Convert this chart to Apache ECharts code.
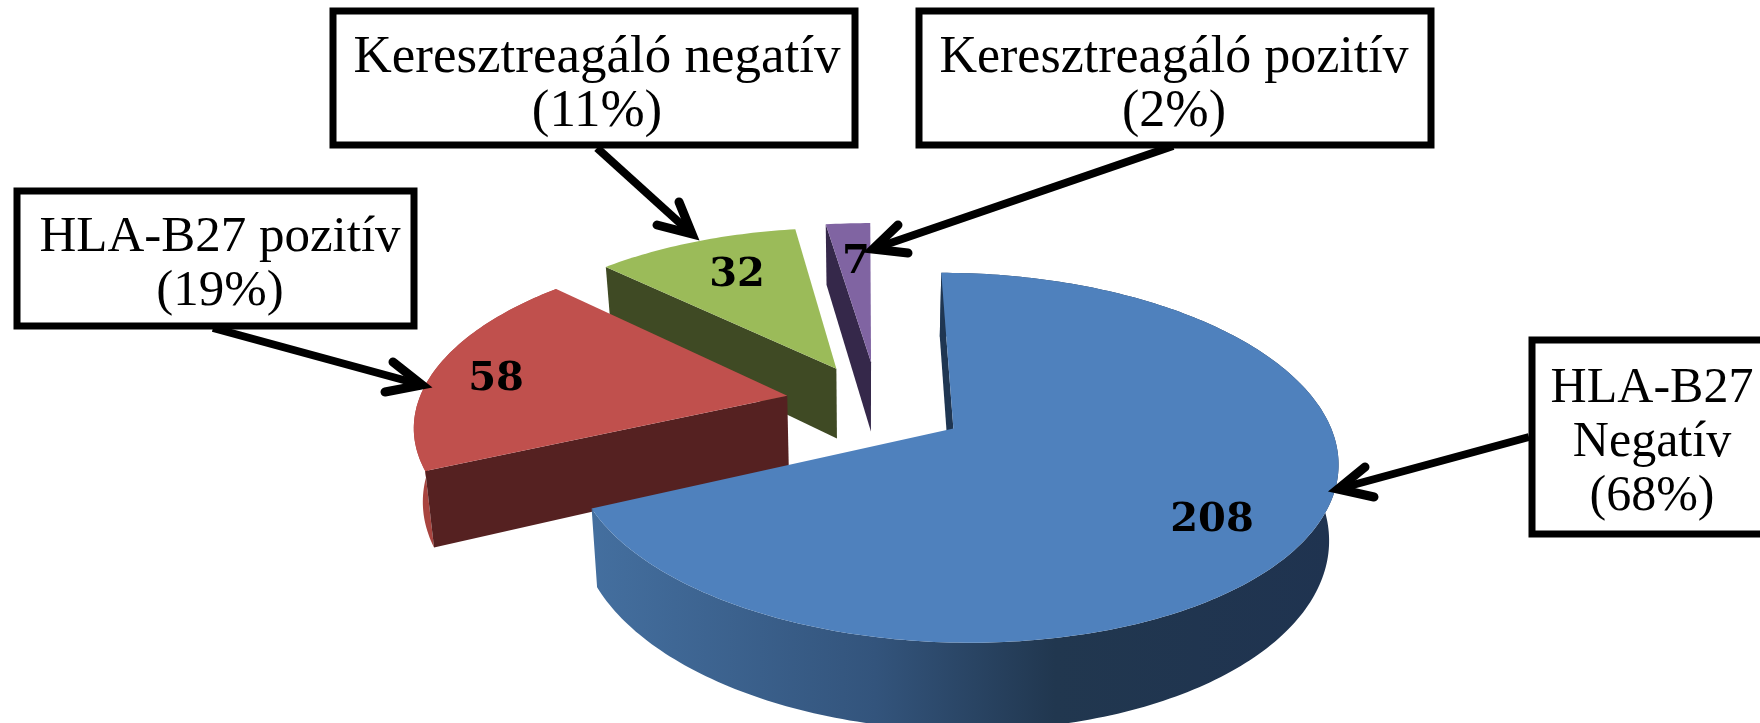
<!DOCTYPE html>
<html>
  <head>
    <meta charset="utf-8">
    <script src="https://cdn.jsdelivr.net/npm/echarts@6/dist/echarts.min.js"></script>
    <style>
      html, body { margin: 0; padding: 0; background: #fff; overflow: hidden; }
      #chart { width: 1760px; height: 723px; }
    </style>
  </head>
  <body>
    <div id="chart"></div>
    <script>
      // adatok
      const categories = ['HLA-B27 Negatív', 'HLA-B27 pozitív', 'Keresztreagáló negatív', 'Keresztreagáló pozitív'];
      const counts = [208, 58, 32, 7];
      const percents = [68, 19, 11, 2];

      // colours per slice: top face, cut wall, outer wall
      const topColors = ['#4f81bd', '#c0504d', '#9bbb59', '#8064a2'];
      const cutColors = ['#1f3652', '#552121', '#3f4a24', '#35284a'];
      const rimColors = [null, '#a8443f', null, null];

      // perspective of the pie plane
      const O = [865, 402], RX = 369, RY = 172, K = 0.155, DEPTH = 72, SHRINK = 0.02;
      // explode offset in plane units
      const explode = [[0.234, 0.15], [-0.212, -0.037], [-0.08, -0.2], [0.017, -0.24]];
      const labelPos = [[1212, 521], [496, 380], [737, 276], [856, 263]];

      const total = counts.reduce((a, b) => a + b, 0);

      function project(x, y) {
        const d = 1 - K * y;
        return [O[0] + RX * x / d, O[1] + RY * y / d];
      }
      function lower(x, y) {
        const p = project(x, y);
        return [O[0] + (p[0] - O[0]) * (1 - SHRINK), p[1] + DEPTH / (1 - K * y)];
      }
      function rimPoints(i, a0, a1, fn) {
        const pts = [];
        const steps = Math.max(2, Math.ceil(a1 - a0));
        for (let s = 0; s <= steps; s++) {
          const a = (a0 + (a1 - a0) * s / steps) * Math.PI / 180;
          pts.push(fn(explode[i][0] + Math.sin(a), explode[i][1] - Math.cos(a)));
        }
        return pts;
      }

      function renderSlice(params, api) {
        const i = params.dataIndex;
        const before = counts.slice(0, i).reduce((a, b) => a + b, 0);
        const a0 = before / total * 360;
        const a1 = a0 + api.value(0) / total * 360;
        const z = (counts.length - i) * 10;
        const children = [];

        // outer wall
        const topRim = rimPoints(i, a0, a1, project);
        const lowRim = rimPoints(i, a0, a1, lower);
        let rimFill = rimColors[i];
        if (i === 0) {
          rimFill = new echarts.graphic.LinearGradient(0, 0, 1, 0, [
            { offset: 0, color: '#446f9f' },
            { offset: 0.38, color: '#33547c' },
            { offset: 0.62, color: '#21374f' },
            { offset: 1, color: '#1f3350' }
          ]);
        }
        if (rimFill) {
          children.push({
            type: 'polygon', z2: z,
            shape: { points: topRim.concat(lowRim.reverse()) },
            style: { fill: rimFill }
          });
        }

        // cut wall on the first edge of the slice
        const apexTop = project(explode[i][0], explode[i][1]);
        const apexLow = lower(explode[i][0], explode[i][1]);
        const ang = a0 * Math.PI / 180;
        const ex = explode[i][0] + Math.sin(ang), ey = explode[i][1] - Math.cos(ang);
        children.push({
          type: 'polygon', z2: z + 1,
          shape: { points: [apexTop, project(ex, ey), lower(ex, ey), apexLow] },
          style: { fill: cutColors[i] }
        });

        // top face
        children.push({
          type: 'polygon', z2: z + 2,
          shape: { points: [apexTop].concat(rimPoints(i, a0, a1, project)) },
          style: { fill: topColors[i] }
        });

        // count label
        children.push({
          type: 'text', z2: 60,
          style: {
            x: labelPos[i][0], y: labelPos[i][1],
            text: String(api.value(0)),
            fill: '#000',
            font: 'bold 40px "DejaVu Serif"',
            align: 'center', verticalAlign: 'middle'
          }
        });
        return { type: 'group', children: children };
      }

      // callout boxes
      const boxes = [
        { x: 333, y: 11, w: 522, h: 134, size: 53, lines: [categories[2], '(' + percents[2] + '%)'], cx: 597, cy: 85 },
        { x: 919, y: 11, w: 512, h: 134, size: 52, lines: [categories[3], '(' + percents[3] + '%)'], cx: 1174, cy: 85 },
        { x: 17, y: 191, w: 397, h: 135, size: 51, lines: [categories[1], '(' + percents[1] + '%)'], cx: 220, cy: 265 },
        { x: 1532, y: 340, w: 245, h: 194, size: 50, lines: ['HLA-B27', 'Negatív', '(' + percents[0] + '%)'], cx: 1652, cy: 443 }
      ];
      const arrows = [
        { from: [597, 148], tip: [692, 234], a: [679, 202], b: [657, 225] },
        { from: [1173, 146], tip: [873, 249], a: [898, 225], b: [908, 253] },
        { from: [213, 328], tip: [422, 385], a: [393, 362], b: [385, 392] },
        { from: [1529, 437], tip: [1338, 489], a: [1365, 467], b: [1374, 497] }
      ];

      const graphics = [];
      arrows.forEach(function (ar) {
        graphics.push({
          type: 'polyline', z: 20,
          shape: { points: [ar.from, ar.tip] },
          style: { stroke: '#000', lineWidth: 8, fill: null }
        });
        graphics.push({
          type: 'polyline', z: 20,
          shape: { points: [ar.a, ar.tip, ar.b] },
          style: { stroke: '#000', lineWidth: 9, lineCap: 'round', lineJoin: 'miter', fill: null }
        });
      });
      boxes.forEach(function (b) {
        graphics.push({
          type: 'rect', z: 21,
          shape: { x: b.x, y: b.y, width: b.w, height: b.h },
          style: { fill: '#fff', stroke: '#000', lineWidth: 7 }
        });
        graphics.push({
          type: 'text', z: 22,
          style: {
            x: b.cx, y: b.cy,
            text: b.lines.join('\n'),
            fill: '#000',
            font: b.size + 'px "Liberation Serif"',
            lineHeight: 54,
            align: 'center', verticalAlign: 'middle'
          }
        });
      });

      const chart = echarts.init(document.getElementById('chart'), null, { renderer: 'canvas' });
      chart.setOption({
        animation: false,
        backgroundColor: '#fff',
        graphic: graphics,
        series: [{
          type: 'custom',
          coordinateSystem: 'none',
          renderItem: renderSlice,
          data: counts.map(function (c, i) { return { name: categories[i], value: c }; }),
          silent: true
        }]
      });
    </script>
  </body>
</html>
